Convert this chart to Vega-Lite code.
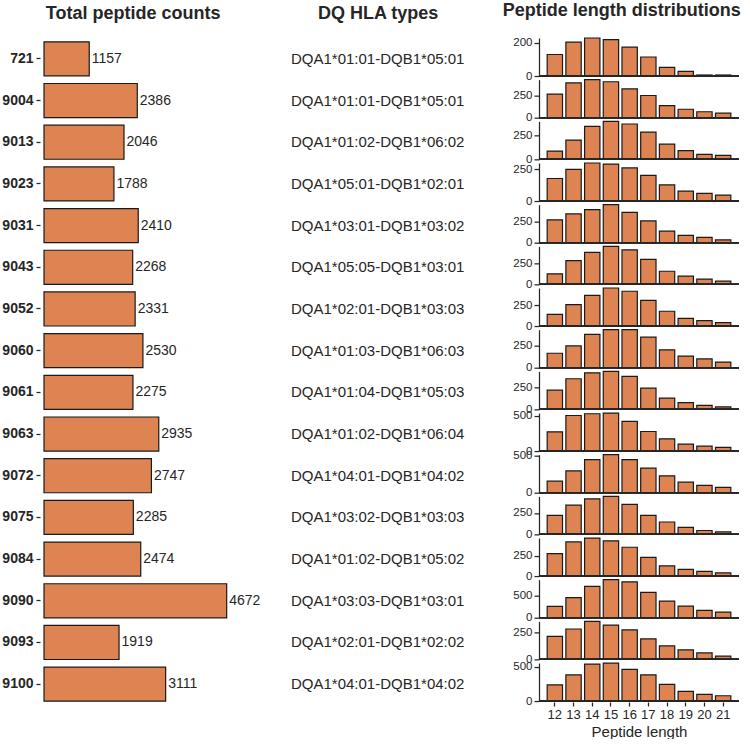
{
  "$schema": "https://vega.github.io/schema/vega-lite/v6.json",
  "padding": {"left": 1, "top": 2, "right": 6, "bottom": 0},
  "spacing": 10,
  "bounds": "flush",
  "datasets": {
    "totals": [
      {"sample": "721", "total": 1157, "hla": "DQA1*01:01-DQB1*05:01"},
      {"sample": "9004", "total": 2386, "hla": "DQA1*01:01-DQB1*05:01"},
      {"sample": "9013", "total": 2046, "hla": "DQA1*01:02-DQB1*06:02"},
      {"sample": "9023", "total": 1788, "hla": "DQA1*05:01-DQB1*02:01"},
      {"sample": "9031", "total": 2410, "hla": "DQA1*03:01-DQB1*03:02"},
      {"sample": "9043", "total": 2268, "hla": "DQA1*05:05-DQB1*03:01"},
      {"sample": "9052", "total": 2331, "hla": "DQA1*02:01-DQB1*03:03"},
      {"sample": "9060", "total": 2530, "hla": "DQA1*01:03-DQB1*06:03"},
      {"sample": "9061", "total": 2275, "hla": "DQA1*01:04-DQB1*05:03"},
      {"sample": "9063", "total": 2935, "hla": "DQA1*01:02-DQB1*06:04"},
      {"sample": "9072", "total": 2747, "hla": "DQA1*04:01-DQB1*04:02"},
      {"sample": "9075", "total": 2285, "hla": "DQA1*03:02-DQB1*03:03"},
      {"sample": "9084", "total": 2474, "hla": "DQA1*01:02-DQB1*05:02"},
      {"sample": "9090", "total": 4672, "hla": "DQA1*03:03-DQB1*03:01"},
      {"sample": "9093", "total": 1919, "hla": "DQA1*02:01-DQB1*02:02"},
      {"sample": "9100", "total": 3111, "hla": "DQA1*04:01-DQB1*04:02"}
    ],
    "lengths": [
      {"sample": "721", "length": 12, "count": 129}, {"sample": "721", "length": 13, "count": 203}, {"sample": "721", "length": 14, "count": 228}, {"sample": "721", "length": 15, "count": 218}, {"sample": "721", "length": 16, "count": 173}, {"sample": "721", "length": 17, "count": 114}, {"sample": "721", "length": 18, "count": 52}, {"sample": "721", "length": 19, "count": 28}, {"sample": "721", "length": 20, "count": 6}, {"sample": "721", "length": 21, "count": 6},
      {"sample": "9004", "length": 12, "count": 263}, {"sample": "9004", "length": 13, "count": 388}, {"sample": "9004", "length": 14, "count": 423}, {"sample": "9004", "length": 15, "count": 400}, {"sample": "9004", "length": 16, "count": 321}, {"sample": "9004", "length": 17, "count": 247}, {"sample": "9004", "length": 18, "count": 134}, {"sample": "9004", "length": 19, "count": 94}, {"sample": "9004", "length": 20, "count": 66}, {"sample": "9004", "length": 21, "count": 50},
      {"sample": "9013", "length": 12, "count": 87}, {"sample": "9013", "length": 13, "count": 203}, {"sample": "9013", "length": 14, "count": 348}, {"sample": "9013", "length": 15, "count": 401}, {"sample": "9013", "length": 16, "count": 373}, {"sample": "9013", "length": 17, "count": 288}, {"sample": "9013", "length": 18, "count": 160}, {"sample": "9013", "length": 19, "count": 93}, {"sample": "9013", "length": 20, "count": 52}, {"sample": "9013", "length": 21, "count": 41},
      {"sample": "9023", "length": 12, "count": 177}, {"sample": "9023", "length": 13, "count": 249}, {"sample": "9023", "length": 14, "count": 299}, {"sample": "9023", "length": 15, "count": 290}, {"sample": "9023", "length": 16, "count": 260}, {"sample": "9023", "length": 17, "count": 201}, {"sample": "9023", "length": 18, "count": 127}, {"sample": "9023", "length": 19, "count": 78}, {"sample": "9023", "length": 20, "count": 60}, {"sample": "9023", "length": 21, "count": 47},
      {"sample": "9031", "length": 12, "count": 273}, {"sample": "9031", "length": 13, "count": 344}, {"sample": "9031", "length": 14, "count": 395}, {"sample": "9031", "length": 15, "count": 454}, {"sample": "9031", "length": 16, "count": 362}, {"sample": "9031", "length": 17, "count": 260}, {"sample": "9031", "length": 18, "count": 138}, {"sample": "9031", "length": 19, "count": 88}, {"sample": "9031", "length": 20, "count": 63}, {"sample": "9031", "length": 21, "count": 33},
      {"sample": "9043", "length": 12, "count": 123}, {"sample": "9043", "length": 13, "count": 279}, {"sample": "9043", "length": 14, "count": 375}, {"sample": "9043", "length": 15, "count": 446}, {"sample": "9043", "length": 16, "count": 404}, {"sample": "9043", "length": 17, "count": 292}, {"sample": "9043", "length": 18, "count": 154}, {"sample": "9043", "length": 19, "count": 96}, {"sample": "9043", "length": 20, "count": 62}, {"sample": "9043", "length": 21, "count": 37},
      {"sample": "9052", "length": 12, "count": 140}, {"sample": "9052", "length": 13, "count": 259}, {"sample": "9052", "length": 14, "count": 369}, {"sample": "9052", "length": 15, "count": 458}, {"sample": "9052", "length": 16, "count": 419}, {"sample": "9052", "length": 17, "count": 309}, {"sample": "9052", "length": 18, "count": 178}, {"sample": "9052", "length": 19, "count": 93}, {"sample": "9052", "length": 20, "count": 64}, {"sample": "9052", "length": 21, "count": 42},
      {"sample": "9060", "length": 12, "count": 166}, {"sample": "9060", "length": 13, "count": 250}, {"sample": "9060", "length": 14, "count": 384}, {"sample": "9060", "length": 15, "count": 437}, {"sample": "9060", "length": 16, "count": 437}, {"sample": "9060", "length": 17, "count": 351}, {"sample": "9060", "length": 18, "count": 206}, {"sample": "9060", "length": 19, "count": 133}, {"sample": "9060", "length": 20, "count": 101}, {"sample": "9060", "length": 21, "count": 65},
      {"sample": "9061", "length": 12, "count": 215}, {"sample": "9061", "length": 13, "count": 343}, {"sample": "9061", "length": 14, "count": 410}, {"sample": "9061", "length": 15, "count": 426}, {"sample": "9061", "length": 16, "count": 369}, {"sample": "9061", "length": 17, "count": 238}, {"sample": "9061", "length": 18, "count": 127}, {"sample": "9061", "length": 19, "count": 75}, {"sample": "9061", "length": 20, "count": 44}, {"sample": "9061", "length": 21, "count": 28},
      {"sample": "9063", "length": 12, "count": 272}, {"sample": "9063", "length": 13, "count": 504}, {"sample": "9063", "length": 14, "count": 529}, {"sample": "9063", "length": 15, "count": 539}, {"sample": "9063", "length": 16, "count": 420}, {"sample": "9063", "length": 17, "count": 277}, {"sample": "9063", "length": 18, "count": 173}, {"sample": "9063", "length": 19, "count": 99}, {"sample": "9063", "length": 20, "count": 69}, {"sample": "9063", "length": 21, "count": 53},
      {"sample": "9072", "length": 12, "count": 157}, {"sample": "9072", "length": 13, "count": 296}, {"sample": "9072", "length": 14, "count": 449}, {"sample": "9072", "length": 15, "count": 516}, {"sample": "9072", "length": 16, "count": 449}, {"sample": "9072", "length": 17, "count": 335}, {"sample": "9072", "length": 18, "count": 229}, {"sample": "9072", "length": 19, "count": 144}, {"sample": "9072", "length": 20, "count": 100}, {"sample": "9072", "length": 21, "count": 72},
      {"sample": "9075", "length": 12, "count": 221}, {"sample": "9075", "length": 13, "count": 340}, {"sample": "9075", "length": 14, "count": 414}, {"sample": "9075", "length": 15, "count": 442}, {"sample": "9075", "length": 16, "count": 348}, {"sample": "9075", "length": 17, "count": 221}, {"sample": "9075", "length": 18, "count": 144}, {"sample": "9075", "length": 19, "count": 82}, {"sample": "9075", "length": 20, "count": 45}, {"sample": "9075", "length": 21, "count": 28},
      {"sample": "9084", "length": 12, "count": 276}, {"sample": "9084", "length": 13, "count": 418}, {"sample": "9084", "length": 14, "count": 466}, {"sample": "9084", "length": 15, "count": 431}, {"sample": "9084", "length": 16, "count": 353}, {"sample": "9084", "length": 17, "count": 228}, {"sample": "9084", "length": 18, "count": 125}, {"sample": "9084", "length": 19, "count": 82}, {"sample": "9084", "length": 20, "count": 56}, {"sample": "9084", "length": 21, "count": 39},
      {"sample": "9090", "length": 12, "count": 259}, {"sample": "9090", "length": 13, "count": 461}, {"sample": "9090", "length": 14, "count": 721}, {"sample": "9090", "length": 15, "count": 874}, {"sample": "9090", "length": 16, "count": 826}, {"sample": "9090", "length": 17, "count": 583}, {"sample": "9090", "length": 18, "count": 381}, {"sample": "9090", "length": 19, "count": 267}, {"sample": "9090", "length": 20, "count": 170}, {"sample": "9090", "length": 21, "count": 130},
      {"sample": "9093", "length": 12, "count": 212}, {"sample": "9093", "length": 13, "count": 280}, {"sample": "9093", "length": 14, "count": 350}, {"sample": "9093", "length": 15, "count": 316}, {"sample": "9093", "length": 16, "count": 271}, {"sample": "9093", "length": 17, "count": 189}, {"sample": "9093", "length": 18, "count": 124}, {"sample": "9093", "length": 19, "count": 88}, {"sample": "9093", "length": 20, "count": 59}, {"sample": "9093", "length": 21, "count": 30},
      {"sample": "9100", "length": 12, "count": 236}, {"sample": "9100", "length": 13, "count": 381}, {"sample": "9100", "length": 14, "count": 538}, {"sample": "9100", "length": 15, "count": 553}, {"sample": "9100", "length": 16, "count": 462}, {"sample": "9100", "length": 17, "count": 381}, {"sample": "9100", "length": 18, "count": 244}, {"sample": "9100", "length": 19, "count": 142}, {"sample": "9100", "length": 20, "count": 97}, {"sample": "9100", "length": 21, "count": 77}
    ]
  },
  "hconcat": [
    {
      "width": 200,
      "height": 667,
      "title": {"text": "Total peptide counts", "dx": -10.8, "offset": 15},
      "data": {"name": "totals"},
      "encoding": {
        "y": {
          "field": "sample", "type": "nominal", "sort": null,
          "scale": {"paddingInner": 0.184, "paddingOuter": 0.092},
          "axis": {"title": null, "domain": false, "tickSize": 4, "offset": 4, "labelPadding": 3, "labelFontWeight": "bold", "labelFontSize": 14}
        }
      },
      "layer": [
        {
          "mark": {"type": "bar", "fill": "#dd8452", "stroke": "#1a1a1a", "strokeWidth": 1.2},
          "encoding": {
            "x": {"field": "total", "type": "quantitative", "scale": {"domain": [0, 5115], "nice": false}, "axis": null}
          }
        },
        {
          "mark": {"type": "text", "align": "left", "dx": 2.5, "fontSize": 14, "color": "#262626"},
          "encoding": {
            "x": {"field": "total", "type": "quantitative"},
            "text": {"field": "total", "type": "quantitative", "format": "d"}
          }
        }
      ]
    },
    {
      "width": 274.4,
      "height": 667,
      "title": {"text": "DQ HLA types", "dx": -13, "offset": 15},
      "data": {"name": "totals"},
      "mark": {"type": "text", "fontSize": 15, "dx": -13.5, "color": "#262626"},
      "encoding": {
        "y": {"field": "sample", "type": "nominal", "sort": null, "scale": {"paddingInner": 0.184, "paddingOuter": 0.092}, "axis": null},
        "text": {"field": "hla", "type": "nominal"}
      }
    },
    {
      "data": {"name": "lengths"},
      "title": {"text": "Peptide length distributions", "dx": -10, "offset": 16.5},
      "facet": {"row": {"field": "sample", "type": "nominal", "header": null}},
      "spacing": {"row": 3.67},
      "bounds": "flush",
      "resolve": {"scale": {"y": "independent"}},
      "spec": {
        "width": 200,
        "height": 38,
        "layer": [
          {
            "mark": {"type": "bar", "fill": "#dd8452", "stroke": "#1a1a1a", "strokeWidth": 1.2},
            "encoding": {
              "x": {
                "field": "length", "type": "ordinal",
                "scale": {"paddingInner": 0.18, "paddingOuter": 0.4375},
                "axis": {"title": "Peptide length", "domain": false, "tickSize": 4, "labelAngle": 0, "labelFontSize": 13, "titleFontSize": 15, "titleFontWeight": "normal", "titlePadding": 3}
              },
              "y": {
                "field": "count", "type": "quantitative",
                "scale": {"nice": false},
                "axis": {"title": null, "tickCount": 2, "values": [0, 200, 250, 500], "labelFontSize": 11.5, "tickSize": 5, "labelPadding": 2}
              }
            }
          },
          {
            "mark": {"type": "rule", "color": "#262626", "strokeWidth": 1.25},
            "encoding": {"y": {"datum": 0}}
          }
        ]
      }
    }
  ],
  "config": {
    "font": "Liberation Sans",
    "view": {"stroke": null},
    "axis": {"domainColor": "#262626", "tickColor": "#262626", "labelColor": "#262626", "titleColor": "#262626", "labelFont": "Liberation Sans", "titleFont": "Liberation Sans", "grid": false, "domainWidth": 1.25, "tickWidth": 1.25},
    "title": {"font": "Liberation Sans", "fontSize": 18, "fontWeight": "bold", "color": "#262626"},
    "text": {"font": "Liberation Sans"}
  }
}
